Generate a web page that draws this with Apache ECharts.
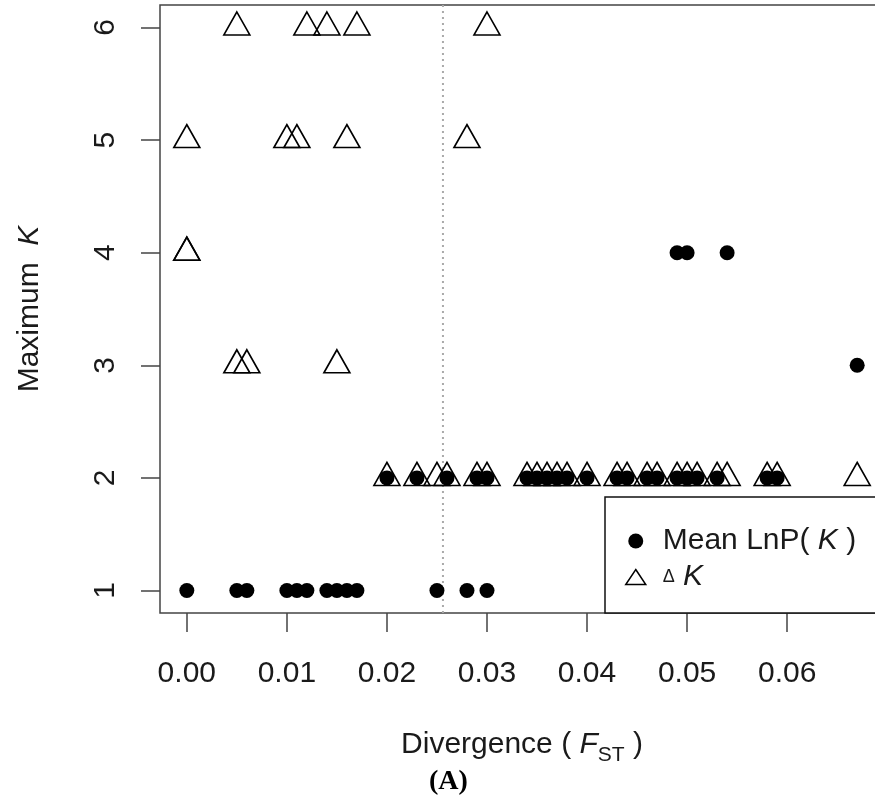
<!DOCTYPE html>
<html>
<head>
<meta charset="utf-8">
<script src="https://cdn.jsdelivr.net/npm/echarts@6/dist/echarts.min.js"></script>
<style>
html,body{margin:0;padding:0;background:#fff;overflow:hidden;width:875px;height:799px;}
#chart{width:900px;height:799px;}
</style>
</head>
<body>
<div id="chart"></div>
<script>
// Mean LnP(K): divergence values at each maximum K
const lnpK1 = [0.000, 0.005, 0.006, 0.010, 0.011, 0.012, 0.014, 0.015, 0.016, 0.017, 0.025, 0.028, 0.030];
const lnpK2 = [0.020, 0.023, 0.026, 0.029, 0.030, 0.034, 0.035, 0.036, 0.037, 0.038, 0.040, 0.043, 0.044, 0.046, 0.047, 0.049, 0.050, 0.051, 0.053, 0.058, 0.059];
const lnpK3 = [0.067];
const lnpK4 = [0.049, 0.050, 0.054];
// Delta K: divergence values at each maximum K
const dkK2 = [0.020, 0.023, 0.025, 0.026, 0.029, 0.030, 0.034, 0.035, 0.036, 0.037, 0.038, 0.040, 0.043, 0.044, 0.046, 0.047, 0.049, 0.050, 0.051, 0.053, 0.054, 0.058, 0.059, 0.067];
const dkK3 = [0.005, 0.006, 0.015];
const dkK4 = [0.000, 0.000];
const dkK5 = [0.000, 0.010, 0.011, 0.016, 0.028];
const dkK6 = [0.005, 0.012, 0.014, 0.017, 0.030];
// reference line and axes
const fstThreshold = 0.0256;
const xTicks = [0, 0.01, 0.02, 0.03, 0.04, 0.05, 0.06];
const xTickLabels = ['0.00', '0.01', '0.02', '0.03', '0.04', '0.05', '0.06'];
const yTicks = [1, 2, 3, 4, 5, 6];
const yTickLabels = ['1', '2', '3', '4', '5', '6'];
const xRange = [0, 0.067];
const yRange = [1, 6];

function rows(map) {
  const out = [];
  Object.keys(map).forEach(k => map[k].forEach(x => out.push([x, Number(k)])));
  return out;
}
const lnpData = rows({1: lnpK1, 2: lnpK2, 3: lnpK3, 4: lnpK4});
const dkData = rows({2: dkK2, 3: dkK3, 4: dkK4, 5: dkK5, 6: dkK6});

// R-style 4% axis extension
const xPad = (xRange[1] - xRange[0]) * 0.04;
const yPad = (yRange[1] - yRange[0]) * 0.04;
const xMin = xRange[0] - xPad, xMax = xRange[1] + xPad;
const yMin = yRange[0] - yPad, yMax = yRange[1] + yPad;

const FONT = 'Liberation Sans, Arial, Helvetica, sans-serif';
const TXT = '#1a1a1a';
const AX = '#444';

const chart = echarts.init(document.getElementById('chart'), null, {renderer: 'canvas'});
chart.setOption({
  animation: false,
  backgroundColor: '#fff',
  title: {
    text: '(A)',
    left: 424,
    top: 763,
    textStyle: {fontFamily: 'Liberation Serif, Times New Roman, serif', fontWeight: 'bold', fontSize: 28, color: '#000'}
  },
  grid: {
    left: 160, top: 5, bottom: 186, right: 16,
    show: true, borderColor: AX, borderWidth: 1.5, backgroundColor: 'transparent'
  },
  legend: {
    orient: 'vertical',
    left: 605, top: 497,
    padding: [29, 40, 21, 20],
    itemGap: 6,
    itemWidth: 20, itemHeight: 15,
    symbolKeepAspect: false,
    backgroundColor: '#fff',
    borderColor: '#111', borderWidth: 1.5,
    borderRadius: 0,
    selectedMode: false,
    textStyle: {
      fontFamily: FONT, fontSize: 30, color: TXT, lineHeight: 30,
      padding: [0, 0, 0, 12],
      rich: {
        i: {fontFamily: FONT, fontStyle: 'italic', fontSize: 30, color: TXT},
        d: {fontFamily: FONT, fontSize: 18, color: TXT}
      }
    },
    formatter: function (name) {
      return name === 'lnp' ? 'Mean LnP( {i|K} )' : '{d|\u0394} {i|K}';
    },
    data: [
      {name: 'lnp', icon: 'circle', itemStyle: {color: '#000', borderWidth: 0}},
      {name: 'dk', icon: 'triangle', itemStyle: {color: 'rgba(0,0,0,0)', borderColor: '#000', borderWidth: 1.5}}
    ]
  },
  xAxis: {
    type: 'value',
    min: xMin, max: xMax,
    name: 'Divergence ( {i|F}{s|ST} )',
    nameLocation: 'middle',
    nameGap: 111,
    nameTextStyle: {
      fontFamily: FONT, fontSize: 30, color: TXT, lineHeight: 42,
      rich: {
        i: {fontFamily: FONT, fontStyle: 'italic', fontSize: 30, color: TXT, lineHeight: 42},
        s: {fontFamily: FONT, fontSize: 21, color: TXT, lineHeight: 21, verticalAlign: 'bottom'}
      }
    },
    axisLine: {show: false, onZero: false},
    splitLine: {show: false},
    axisTick: {show: true, length: 19, customValues: xTicks, lineStyle: {color: AX, width: 1.5}},
    axisLabel: {
      customValues: xTicks,
      margin: 46,
      fontFamily: FONT, fontSize: 30, color: TXT,
      formatter: function (v) { const i = xTicks.findIndex(t => Math.abs(t - v) < 1e-9); return i >= 0 ? xTickLabels[i] : ''; }
    }
  },
  yAxis: {
    type: 'value',
    min: yMin, max: yMax,
    name: 'Maximum  {i|K}',
    nameLocation: 'middle',
    nameRotate: 90,
    nameGap: 115,
    nameTextStyle: {
      fontFamily: FONT, fontSize: 30, color: TXT,
      rich: {i: {fontFamily: FONT, fontStyle: 'italic', fontSize: 30, color: TXT}}
    },
    axisLine: {show: false, onZero: false},
    splitLine: {show: false},
    axisTick: {show: true, length: 19, customValues: yTicks, lineStyle: {color: AX, width: 1.5}},
    axisLabel: {
      customValues: yTicks,
      rotate: 90,
      margin: 39,
      fontFamily: FONT, fontSize: 30, color: TXT,
      formatter: function (v) { const i = yTicks.indexOf(Math.round(v)); return i >= 0 ? yTickLabels[i] : ''; }
    }
  },
  series: [
    {
      name: 'threshold',
      type: 'line',
      data: [[fstThreshold, yMin], [fstThreshold, yMax]],
      symbol: 'none',
      silent: true,
      lineStyle: {type: [2, 4], color: '#aaa', width: 2},
      z: 1
    },
    {
      name: 'lnp',
      type: 'scatter',
      data: lnpData,
      symbol: 'circle',
      symbolSize: 15,
      itemStyle: {color: '#000', opacity: 1},
      z: 2
    },
    {
      name: 'dk',
      type: 'scatter',
      data: dkData,
      symbol: 'triangle',
      symbolSize: [26, 23],
      symbolOffset: [0, -4],
      itemStyle: {color: 'rgba(0,0,0,0)', borderColor: '#000', borderWidth: 1.6, opacity: 1},
      z: 3
    }
  ]
});
</script>
</body>
</html>
